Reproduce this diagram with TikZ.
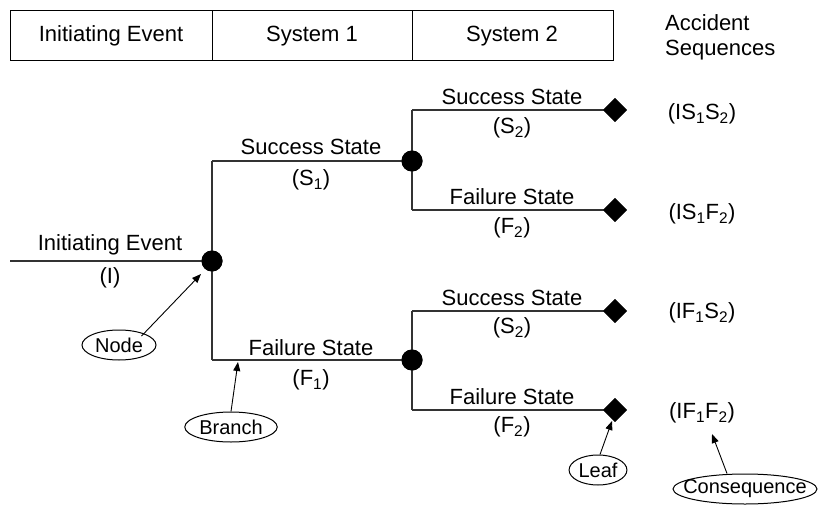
\documentclass[tikz,border=0pt]{standalone}
\usepackage{fontspec}
\setmainfont{Liberation Sans}
\usetikzlibrary{shapes.geometric,arrows.meta}
\newcommand{\sub}[1]{\textsubscript{#1}}
\begin{document}
\begin{tikzpicture}[x=1pt,y=-1pt,
  lbl/.style={font=\fontsize{22}{26}\selectfont, inner sep=0pt},
  ln/.style={line width=1.6pt, draw=black!80},
  evnode/.style={circle, fill=black, minimum size=21pt, inner sep=0pt},
  leaf/.style={diamond, fill=black, minimum size=24pt, inner sep=0pt},
  callout/.style={ellipse, draw, line width=1pt, font=\fontsize{20}{24}\selectfont, inner sep=1pt, minimum height=30pt},
  ptr/.style={-{Triangle[length=9pt,width=7pt]}, line width=0.9pt},
  hdrbox/.style={draw, line width=1pt},
  hdr/.style={font=\fontsize{22}{26}\selectfont, inner sep=0pt}
]
\useasboundingbox (0,0) rectangle (818,505);
% header
\draw[hdrbox] (10,11) rectangle (212,61);
\draw[hdrbox] (212,11) rectangle (412,61);
\draw[hdrbox] (412,11) rectangle (613,61);
\node[hdr] (h1) at (111,36) {Initiating Event};
\node[hdr] (h2) at (312,36) {System 1};
\node[hdr] (h3) at (512,36) {System 2};
\node[hdr, align=left, anchor=west] (h4) at (665,37) {Accident\\[-1pt]Sequences};

% nodes
\coordinate (start) at (10,261);
\node[evnode] (n1) at (212,261) {};
\node[evnode] (n2) at (412,161) {};
\node[evnode] (n3) at (412,360) {};
\coordinate (c1u) at (212,161);
\coordinate (c1d) at (212,360);
\coordinate (c2u) at (412,110);
\coordinate (c2d) at (412,210);
\coordinate (c3u) at (412,311);
\coordinate (c3d) at (412,410);
\node[leaf] (l1) at (615,110) {};
\node[leaf] (l2) at (615,210) {};
\node[leaf] (l3) at (615,311) {};
\node[leaf] (l4) at (615,410) {};

% lines
\draw[ln] (start) -- (n1.center);
\draw[ln] (c1u) -- (c1d);
\draw[ln] (c1u) -- (n2.center);
\draw[ln] (c1d) -- (n3.center);
\draw[ln] (c2u) -- (c2d);
\draw[ln] (c3u) -- (c3d);
\draw[ln] (c2u) -- (l1.center);
\draw[ln] (c2d) -- (l2.center);
\draw[ln] (c3u) -- (l3.center);
\draw[ln] (c3d) -- (l4.center);
\node[evnode] at (n1) {};
\node[evnode] at (n2) {};
\node[evnode] at (n3) {};
\node[leaf] at (l1) {};
\node[leaf] at (l2) {};
\node[leaf] at (l3) {};
\node[leaf] at (l4) {};

% labels
\node[lbl] (t0a) at (110,245) {Initiating Event};
\node[lbl] (t0b) at (110,278) {(I)};
\node[lbl] (t1a) at (311,147) {Success State};
\node[lbl] (t1b) at (311,180) {(S\sub{1})};
\node[lbl] (t2a) at (311,348) {Failure State};
\node[lbl] (t2b) at (311,380) {(F\sub{1})};
\node[lbl] (t3a) at (512,97) {Success State};
\node[lbl] (t3b) at (512,128) {(S\sub{2})};
\node[lbl] (t4a) at (512,197) {Failure State};
\node[lbl] (t4b) at (512,228) {(F\sub{2})};
\node[lbl] (t5a) at (512,298) {Success State};
\node[lbl] (t5b) at (512,328) {(S\sub{2})};
\node[lbl] (t6a) at (512,397) {Failure State};
\node[lbl] (t6b) at (512,427) {(F\sub{2})};
\node[lbl] (s1) at (702,114) {(IS\sub{1}S\sub{2})};
\node[lbl] (s2) at (702,214) {(IS\sub{1}F\sub{2})};
\node[lbl] (s3) at (702,313) {(IF\sub{1}S\sub{2})};
\node[lbl] (s4) at (702,413) {(IF\sub{1}F\sub{2})};

% callouts
\node[callout, minimum width=74pt] (cnode) at (119,345) {Node};
\node[callout, minimum width=78pt] (cbranch) at (231,427) {Branch};
\node[callout, minimum width=50pt] (cleaf) at (598,470) {Leaf};
\node[callout, inner xsep=-11pt, inner ysep=-3pt, minimum width=144pt] (ccons) at (745,489) {Consequence};
\coordinate (pn) at (201,274);
\coordinate (pb) at (238,362);
\coordinate (pl) at (612,421);
\coordinate (pc) at (712,434);
\draw[ptr] (cnode.north east) ++(-4,2) -- (pn);
\draw[ptr] (cbranch.north) -- (pb);
\draw[ptr] (cleaf.north) ++(2,0) -- (pl);
\draw[ptr] (ccons.north) ++(-18,0) -- (pc);
\end{tikzpicture}
\end{document}
